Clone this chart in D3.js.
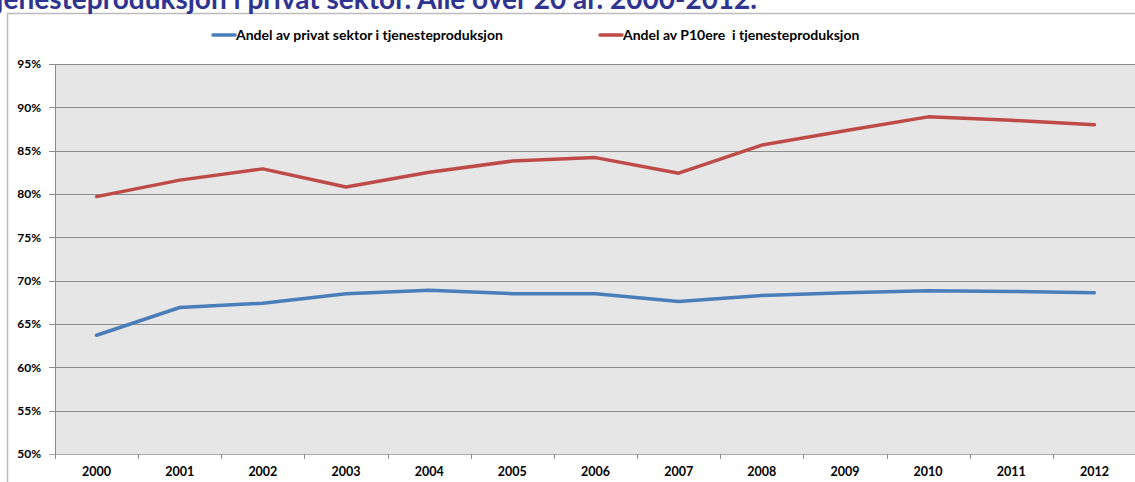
<!DOCTYPE html>
<html>
<head>
<meta charset="utf-8">
<script src="https://cdn.jsdelivr.net/npm/d3@7"></script>
<style>
  body { margin: 0; background: #fff; overflow: hidden; }
  svg { display: block; font-family: Lato, "Open Sans", sans-serif; }
</style>
</head>
<body>
<svg id="chart" width="1135" height="482"></svg>
<script>
const years = ["2000", "2001", "2002", "2003", "2004", "2005", "2006", "2007", "2008", "2009", "2010", "2011", "2012"];
const privatSektor = [63.7, 66.9, 67.4, 68.5, 68.9, 68.5, 68.5, 67.6, 68.3, 68.6, 68.85, 68.75, 68.6];
const p10ere = [79.7, 81.6, 82.9, 80.8, 82.5, 83.8, 84.2, 82.4, 85.65, 87.3, 88.9, 88.5, 88.0];
const yTicks = [50, 55, 60, 65, 70, 75, 80, 85, 90, 95];
const seriesNames = ["Andel av privat sektor i tjenesteproduksjon", "Andel av P10ere  i tjenesteproduksjon"];
const seriesColors = ["#4a7ebb", "#be4b48"];
const titleText = "tjenesteproduksjon i privat sektor. Alle over 20 år. 2000-2012.";

const svg = d3.select("#chart");
const plotLeft = 55, plotTop = 64, plotRight = 1136, plotBottom = 454;

// chart frame
svg.append("rect")
    .attr("x", 7.5).attr("y", 13.5)
    .attr("width", 1140).attr("height", 480)
    .attr("fill", "#fff")
    .attr("stroke", "#bcbcbc")
    .attr("stroke-width", 1.5);

// title (cut off at top / left like the source)
svg.append("text")
    .attr("x", 757).attr("y", 9)
    .attr("text-anchor", "end")
    .attr("fill", "#2f3490")
    .style("font-size", "28px")
    .style("font-weight", "bold")
    .text(titleText);

const x = d3.scaleBand().domain(years).range([plotLeft, plotRight]);
const y = d3.scaleLinear().domain([50, 95]).range([plotBottom, plotTop]);

// plot background
svg.append("rect")
    .attr("x", plotLeft).attr("y", plotTop)
    .attr("width", plotRight - plotLeft).attr("height", plotBottom - plotTop)
    .attr("fill", "#e6e6e6");

// gridlines
svg.append("g")
    .selectAll("line")
    .data(yTicks)
    .join("line")
    .attr("x1", plotLeft - 6).attr("x2", plotRight)
    .attr("y1", d => Math.round(y(d)) + 0.5)
    .attr("y2", d => Math.round(y(d)) + 0.5)
    .attr("stroke", d => d === 50 ? "#aaa" : "#8c8c8c")
    .attr("stroke-width", 1);

// y axis line
svg.append("line")
    .attr("x1", plotLeft + 0.5).attr("x2", plotLeft + 0.5)
    .attr("y1", plotTop).attr("y2", plotBottom)
    .attr("stroke", "#8c8c8c");

// y labels
svg.append("g")
    .selectAll("text")
    .data(yTicks)
    .join("text")
    .attr("x", 41)
    .attr("y", d => y(d))
    .attr("dy", "0.35em")
    .attr("text-anchor", "end")
    .style("font-size", "12px")
    .style("font-weight", "bold")
    .text(d => d + "%");

// x ticks between categories
const tickPos = years.map(d => x(d)).concat([plotRight]);
svg.append("g")
    .selectAll("line")
    .data(tickPos)
    .join("line")
    .attr("x1", d => Math.round(d) + 0.5).attr("x2", d => Math.round(d) + 0.5)
    .attr("y1", plotBottom).attr("y2", plotBottom + 5)
    .attr("stroke", "#8c8c8c");

// x labels
svg.append("g")
    .selectAll("text")
    .data(years)
    .join("text")
    .attr("x", d => x(d) + x.bandwidth() / 2)
    .attr("y", 476)
    .attr("text-anchor", "middle")
    .style("font-size", "12.5px")
    .style("font-weight", "bold")
    .text(d => d);

// lines
const line = d3.line()
    .x((d, i) => x(years[i]) + x.bandwidth() / 2)
    .y(d => y(d));

[privatSektor, p10ere].forEach((s, i) => {
    svg.append("path")
        .datum(s)
        .attr("d", line)
        .attr("fill", "none")
        .attr("stroke", seriesColors[i])
        .attr("stroke-width", 3.5)
        .attr("stroke-linejoin", "round")
        .attr("stroke-linecap", "round");
});

// legend
const legendX = [212, 599];
const legend = svg.append("g")
    .selectAll("g")
    .data(seriesNames)
    .join("g")
    .attr("transform", (d, i) => `translate(${legendX[i]},35)`);

legend.append("line")
    .attr("x1", 1).attr("x2", 23)
    .attr("y1", 0).attr("y2", 0)
    .attr("stroke", (d, i) => seriesColors[i])
    .attr("stroke-width", 3.5)
    .attr("stroke-linecap", "round");

legend.append("text")
    .attr("x", 24)
    .attr("y", 0)
    .attr("dy", "0.35em")
    .style("font-size", "14px")
    .style("font-weight", "bold")
    .style("white-space", "pre")
    .attr("xml:space", "preserve")
    .text(d => d);
</script>
</body>
</html>
